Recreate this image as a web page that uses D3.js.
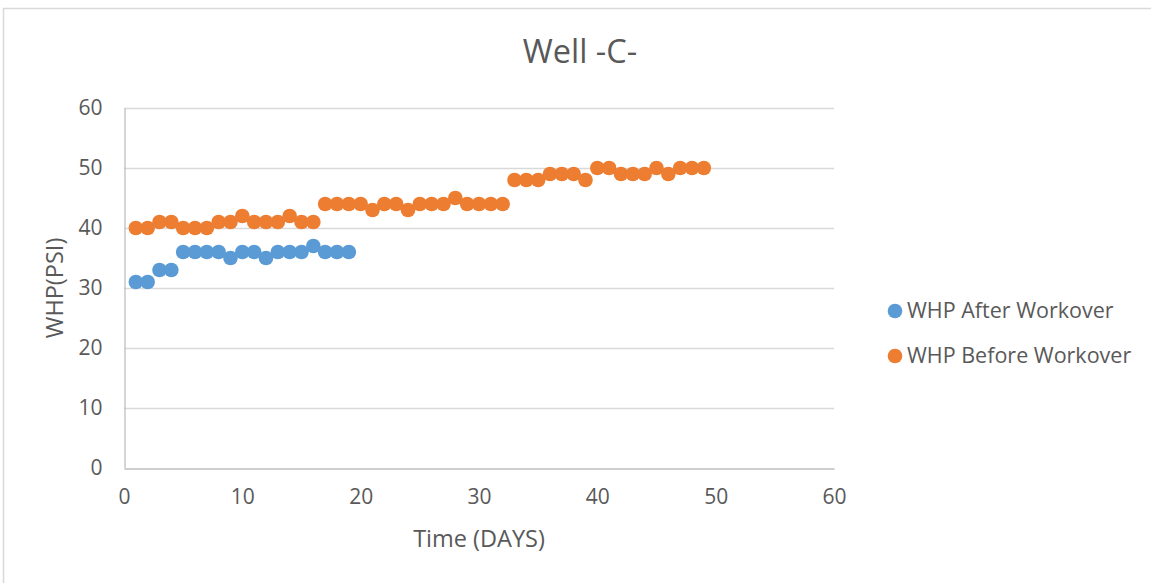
<!DOCTYPE html>
<html>
<head>
<meta charset="utf-8">
<script src="https://cdn.jsdelivr.net/npm/d3@7"></script>
<style>
  html, body { margin: 0; padding: 0; background: #fff; }
  svg { display: block; font-family: "Open Sans", "Noto Sans", sans-serif; }
</style>
</head>
<body>
<svg id="chart" width="1151" height="583"></svg>
<script>
// Wellhead pressure readings, one per day
const daysAfter = d3.range(1, 20);
const whpAfter = [31, 31, 33, 33, 36, 36, 36, 36, 35, 36, 36, 35, 36, 36, 36, 37, 36, 36, 36];

const daysBefore = d3.range(1, 50);
const whpBefore = [40, 40, 41, 41, 40, 40, 40, 41, 41, 42, 41, 41, 41, 42, 41, 41,
                   44, 44, 44, 44, 43, 44, 44, 43, 44, 44, 44, 45, 44, 44, 44, 44,
                   48, 48, 48, 49, 49, 49, 48, 50, 50, 49, 49, 49, 50, 49, 50, 50, 50];

const xTicks = [0, 10, 20, 30, 40, 50, 60];
const yTicks = [0, 10, 20, 30, 40, 50, 60];

const seriesNames = ["WHP After Workover", "WHP Before Workover"];
const seriesColors = ["#5b9bd5", "#ed7d31"];

const textColor = "#595959";

const svg = d3.select("#chart");

// outer chart frame
svg.append("rect")
  .attr("x", 3.5).attr("y", 8.5)
  .attr("width", 1160).attr("height", 600)
  .attr("fill", "#fff").attr("stroke", "#d9d9d9").attr("stroke-width", 1.5);

const plot = { left: 124, right: 834, top: 108, bottom: 468 };

const x = d3.scaleLinear().domain([0, 60]).range([plot.left, plot.right]);
const y = d3.scaleLinear().domain([0, 60]).range([plot.bottom, plot.top]);

// horizontal gridlines
svg.append("g")
  .selectAll("line")
  .data(yTicks.filter(t => t > 0))
  .join("line")
  .attr("x1", plot.left).attr("x2", plot.right)
  .attr("y1", d => y(d) + 0.5).attr("y2", d => y(d) + 0.5)
  .attr("stroke", "#d9d9d9").attr("stroke-width", 1.3);

// y axis
const yAxis = svg.append("g")
  .attr("transform", `translate(${plot.left + 0.5},0)`)
  .call(d3.axisLeft(y).tickValues(yTicks).tickSize(0).tickPadding(22));
yAxis.select(".domain").attr("stroke", "#bfbfbf").attr("stroke-width", 1.3);
yAxis.selectAll("text")
  .attr("fill", textColor).attr("font-size", 21)
  .attr("font-family", "'Open Sans', sans-serif");

// x axis
const xAxis = svg.append("g")
  .attr("transform", `translate(0,${plot.bottom + 0.5})`)
  .call(d3.axisBottom(x).tickValues(xTicks).tickSize(0).tickPadding(21));
xAxis.select(".domain").attr("stroke", "#bfbfbf").attr("stroke-width", 1.3);
xAxis.selectAll("text")
  .attr("fill", textColor).attr("font-size", 21)
  .attr("font-family", "'Open Sans', sans-serif");

// points
const series = [
  { name: seriesNames[0], color: seriesColors[0], pts: daysAfter.map((d, i) => [d, whpAfter[i]]) },
  { name: seriesNames[1], color: seriesColors[1], pts: daysBefore.map((d, i) => [d, whpBefore[i]]) }
];

series.forEach(s => {
  svg.append("g")
    .selectAll("circle")
    .data(s.pts)
    .join("circle")
    .attr("cx", d => x(d[0]))
    .attr("cy", d => y(d[1]))
    .attr("r", 7.3)
    .attr("fill", s.color);
});

// title
svg.append("text")
  .attr("x", 580).attr("y", 63)
  .attr("text-anchor", "middle")
  .attr("font-size", 32.5)
  .attr("fill", textColor)
  .text("Well -C-");

// axis titles
svg.append("text")
  .attr("x", 479).attr("y", 547)
  .attr("text-anchor", "middle")
  .attr("font-size", 23.5)
  .attr("fill", textColor)
  .text("Time (DAYS)");

svg.append("text")
  .attr("transform", "translate(63,288) rotate(-90)")
  .attr("text-anchor", "middle")
  .attr("font-size", 23.5)
  .attr("fill", textColor)
  .text("WHP(PSI)");

// legend
const legend = svg.append("g");
const legendY = [310, 355];
series.forEach((s, i) => {
  legend.append("circle")
    .attr("cx", 895).attr("cy", legendY[i] + 1)
    .attr("r", 7.3).attr("fill", s.color);
  legend.append("text")
    .attr("x", 907).attr("y", legendY[i])
    .attr("dy", "0.35em")
    .attr("font-size", 21.5)
    .attr("fill", textColor)
    .text(s.name);
});
</script>
</body>
</html>
